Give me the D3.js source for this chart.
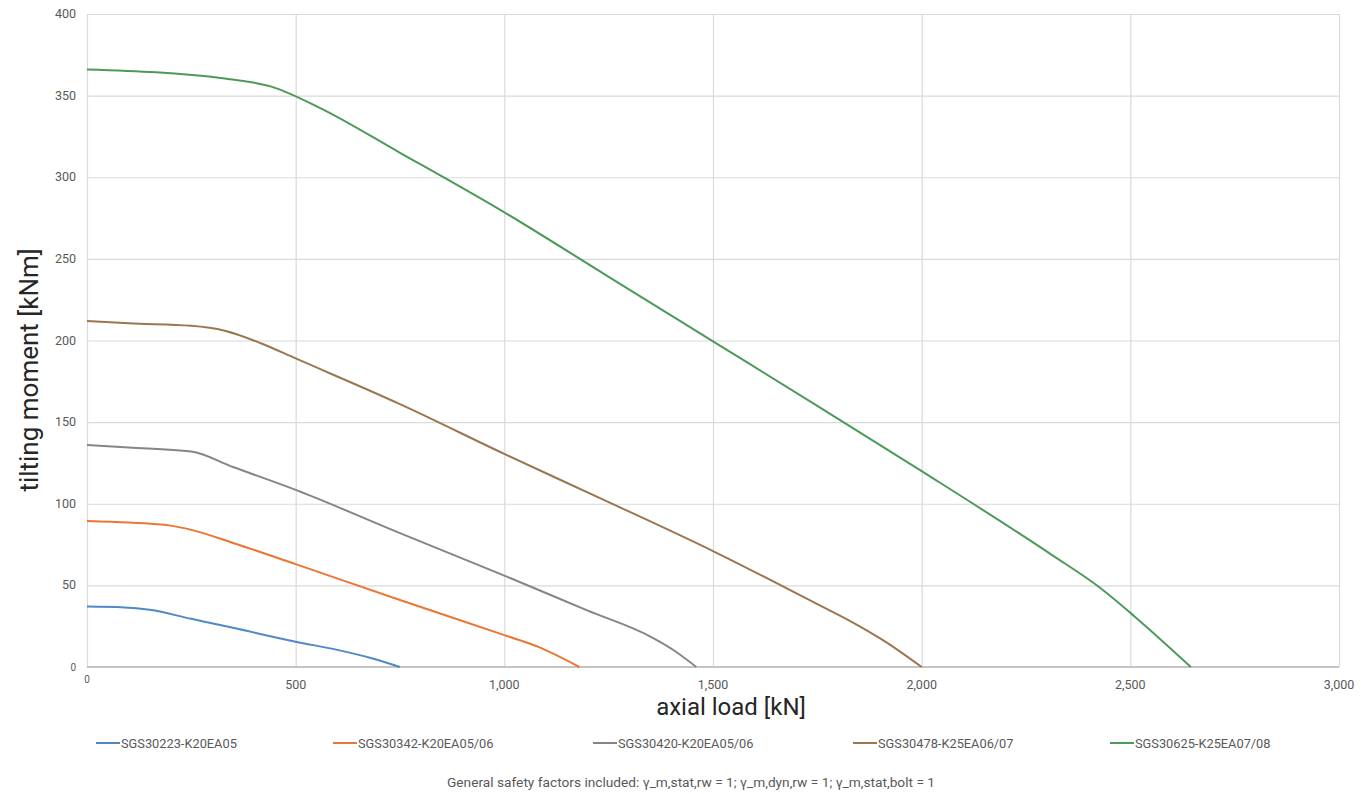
<!DOCTYPE html>
<html>
<head>
<meta charset="utf-8">
<script src="https://cdn.jsdelivr.net/npm/d3@7"></script>
<style>
   body { margin: 0; background: #fff; }
   svg { display: block; font-family: Roboto, "Liberation Sans", sans-serif; }
</style>
</head>
<body>
<svg id="chart" width="1366" height="794"></svg>
<script>
// axial load [kN] / tilting moment [kNm]
const seriesNames = ['SGS30223-K20EA05', 'SGS30342-K20EA05/06', 'SGS30420-K20EA05/06', 'SGS30478-K25EA06/07', 'SGS30625-K25EA07/08'];
const seriesColors = ['#4f89c6', '#eb7634', '#858585', '#9c7650', '#4d9a58'];

const loadA = [0, 90, 150, 250, 350, 500, 600, 680, 750];
const momentA = [37, 36.5, 35, 29.5, 24, 15.5, 10.5, 5.5, 0];

const loadB = [0, 100, 200, 250, 350, 500, 750, 1000, 1080, 1180];
const momentB = [89.5, 88.5, 86.6, 84, 76, 63, 41, 19.5, 12.5, 0];

const loadC = [0, 100, 250, 350, 500, 750, 1000, 1200, 1350, 1405, 1460];
const momentC = [136, 134.5, 132, 122.5, 108.5, 82, 56, 34.5, 18.6, 10.4, 0];

const loadD = [0, 100, 250, 330, 415, 500, 750, 1000, 1250, 1500, 1750, 1830, 1910, 2000];
const momentD = [212, 210.5, 209, 206, 198.5, 189, 161, 130.5, 101, 71, 38.5, 28, 16, 0];

const loadE = [0, 330, 442, 554, 750, 1000, 1250, 1500, 1750, 2000, 2310, 2425, 2510, 2645];
const momentE = [366, 360.5, 355.5, 343, 315, 278.5, 239, 199.5, 160, 120, 69, 49, 31, 0];

const xTicks = [0, 500, 1000, 1500, 2000, 2500, 3000];
const yTicks = [0, 50, 100, 150, 200, 250, 300, 350, 400];

const xTitle = 'axial load [kN]';
const yTitle = 'tilting moment [kNm]';
const footnote = 'General safety factors included: γ_m,stat,rw = 1; γ_m,dyn,rw = 1; γ_m,stat,bolt = 1';

const series = [
   [loadA, momentA], [loadB, momentB], [loadC, momentC], [loadD, momentD], [loadE, momentE]
].map(function(s, i) {
   return { name: seriesNames[i], color: seriesColors[i], points: s[0].map((x, j) => [x, s[1][j]]) };
});

const svg = d3.select('#chart');
const plotLeft = 87, plotRight = 1339, plotTop = 14, plotBottom = 667;

const x = d3.scaleLinear().domain([0, 3000]).range([plotLeft, plotRight]);
const y = d3.scaleLinear().domain([0, 400]).range([plotBottom, plotTop]);

// grid
svg.append('g')
   .attr('transform', `translate(0,${plotBottom})`)
   .call(d3.axisBottom(x).tickValues(xTicks).tickSize(-(plotBottom - plotTop)).tickFormat(''))
   .call(g => g.select('.domain').remove())
   .selectAll('line').attr('stroke', '#dadada').attr('stroke-width', 1.2);

svg.append('g')
   .attr('transform', `translate(${plotLeft},0)`)
   .call(d3.axisLeft(y).tickValues(yTicks).tickSize(-(plotRight - plotLeft)).tickFormat(''))
   .call(g => g.select('.domain').remove())
   .selectAll('line').attr('stroke', '#dadada').attr('stroke-width', 1.2);

// base axis line
svg.append('line')
   .attr('x1', x(0)).attr('x2', x(3000))
   .attr('y1', y(0)).attr('y2', y(0))
   .attr('stroke', '#c4c4c4').attr('stroke-width', 1.8);

// tick labels
svg.append('g').selectAll('text')
   .data(yTicks)
   .enter().append('text')
      .attr('x', 76)
      .attr('y', d => y(d) + 4)
      .attr('text-anchor', 'end')
      .style('font-size', d => d == 0 ? '10px' : '12.5px')
      .style('fill', '#595959')
      .text(d => d);

svg.append('g').selectAll('text')
   .data(xTicks)
   .enter().append('text')
      .attr('x', d => x(d))
      .attr('y', d => d == 0 ? 683 : 689)
      .attr('text-anchor', 'middle')
      .style('font-size', d => d == 0 ? '10px' : '12.5px')
      .style('fill', '#595959')
      .text(d => d3.format(',')(d));

// axis titles
svg.append('text')
   .attr('x', 731)
   .attr('y', 715)
   .attr('text-anchor', 'middle')
   .style('font-size', '24px')
   .style('fill', '#262626')
   .text(xTitle);

svg.append('text')
   .attr('transform', 'translate(38,370) rotate(-90)')
   .attr('text-anchor', 'middle')
   .style('font-size', '26px')
   .style('fill', '#262626')
   .text(yTitle);

// curves
const line = d3.line()
   .x(d => x(d[0]))
   .y(d => y(d[1]))
   .curve(d3.curveMonotoneX);

svg.append('g').selectAll('path')
   .data(series)
   .enter().append('path')
      .attr('d', d => line(d.points))
      .attr('fill', 'none')
      .attr('stroke', d => d.color)
      .attr('stroke-width', 2)
      .attr('stroke-linejoin', 'round');

// legend
const legendX = [96, 333, 593, 853, 1110];
const legend = svg.append('g').selectAll('g')
   .data(series)
   .enter().append('g')
      .attr('transform', (d, i) => `translate(${legendX[i]},743)`);

legend.append('line')
   .attr('x1', 0).attr('x2', 24)
   .attr('y1', 0).attr('y2', 0)
   .attr('stroke', d => d.color)
   .attr('stroke-width', 2);

legend.append('text')
   .attr('x', 25)
   .attr('y', 4.5)
   .style('font-size', '12.8px')
   .style('fill', '#595959')
   .text(d => d.name);

svg.append('text')
   .attr('x', 691)
   .attr('y', 787)
   .attr('text-anchor', 'middle')
   .attr('textLength', 488)
   .attr('lengthAdjust', 'spacingAndGlyphs')
   .style('font-size', '12px')
   .style('fill', '#595959')
   .text(footnote);
</script>
</body>
</html>
